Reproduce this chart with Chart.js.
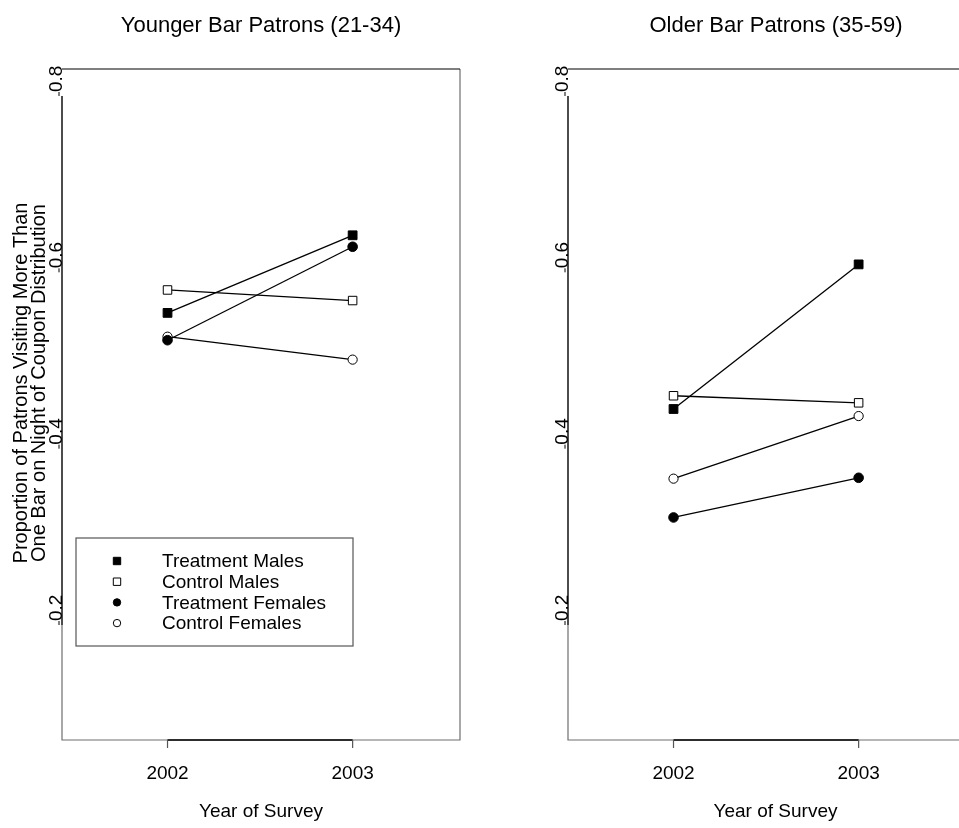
<!DOCTYPE html>
<html><head><meta charset="utf-8">
<script src="https://cdn.jsdelivr.net/npm/chart.js@4.4.1/dist/chart.umd.min.js"></script>
<style>
html,body{margin:0;padding:0;background:#fff;overflow:hidden;width:959px;height:828px;position:relative;}
#wrapL{position:absolute;left:0;top:0;width:480px;height:828px;}
#wrapR{position:absolute;left:480px;top:0;width:520px;height:828px;}
canvas{display:block;}
</style></head><body>
<div id="wrapL"><canvas id="cL" width="480" height="828"></canvas></div>
<div id="wrapR"><canvas id="cR" width="520" height="828"></canvas></div>
<script>
// ---- data ----
const years = [2002, 2003];
const seriesNames = ['Treatment Males', 'Control Males', 'Treatment Females', 'Control Females'];
const youngTreatmentMales   = [0.554, 0.642];
const youngControlMales     = [0.580, 0.568];
const youngTreatmentFemales = [0.523, 0.629];
const youngControlFemales   = [0.527, 0.501];
const oldTreatmentMales     = [0.445, 0.609];
const oldControlMales       = [0.460, 0.452];
const oldTreatmentFemales   = [0.322, 0.367];
const oldControlFemales     = [0.366, 0.437];
const yTickValues = [0.2, 0.4, 0.6, 0.8];
const yTickLabels = ['0.2', '0.4', '0.6', '0.8'];
const xTickLabels = ['2002', '2003'];
const panelTitles = ['Younger Bar Patrons (21-34)', 'Older Bar Patrons (35-59)'];
const xAxisTitle = 'Year of Survey';
const yAxisTitleLines = ['Proportion of Patrons Visiting More Than', 'One Bar on Night of Coupon Distribution'];

// ---- styles ----
const FONT = '"Liberation Sans", Arial, Helvetica, sans-serif';
const markerStyles = [
  {pointStyle: 'rect',   fill: '#000', radius: 6.2},
  {pointStyle: 'rect',   fill: '#fff', radius: 6.0},
  {pointStyle: 'circle', fill: '#000', radius: 4.8},
  {pointStyle: 'circle', fill: '#fff', radius: 4.6}
];

function buildDatasets(arrays) {
  return arrays.map((arr, i) => ({
    label: seriesNames[i],
    data: years.map((yr, j) => ({x: yr, y: arr[j]})),
    borderColor: '#000',
    borderWidth: 1.3,
    backgroundColor: markerStyles[i].fill,
    pointStyle: markerStyles[i].pointStyle,
    pointRadius: markerStyles[i].radius,
    pointBorderWidth: 1,
    pointBorderColor: '#000',
    pointBackgroundColor: markerStyles[i].fill,
    fill: false,
    tension: 0,
    clip: false
  }));
}

function drawLegendMarker(ctx, style, x, y) {
  ctx.save();
  ctx.lineWidth = 1;
  ctx.strokeStyle = '#000';
  ctx.fillStyle = style.fill;
  ctx.beginPath();
  if (style.pointStyle === 'rect') {
    ctx.rect(x - 3.7, y - 3.7, 7.4, 7.4);
  } else {
    ctx.arc(x, y, 3.7, 0, Math.PI * 2);
  }
  ctx.fill();
  ctx.stroke();
  ctx.restore();
}

const panelPlugin = {
  id: 'panel',
  afterDraw(chart, args, o) {
    const {ctx, chartArea: a, scales: {x, y}} = chart;
    ctx.save();
    const yTop = y.getPixelForValue(yTickValues[yTickValues.length - 1]);
    const yBot = y.getPixelForValue(yTickValues[0]);
    // grey frame: left (below last tick), bottom, right
    ctx.strokeStyle = '#6e6e6e';
    ctx.lineWidth = 1.2;
    ctx.beginPath();
    ctx.moveTo(a.left, yBot); ctx.lineTo(a.left, a.bottom); ctx.lineTo(a.right, a.bottom); ctx.lineTo(a.right, a.top);
    ctx.stroke();
    // top line
    ctx.strokeStyle = '#000';
    ctx.lineWidth = 1.2;
    ctx.beginPath(); ctx.moveTo(a.left, a.top); ctx.lineTo(a.right, a.top); ctx.stroke();
    // y axis between first and last tick
    ctx.lineWidth = 1.4;
    ctx.beginPath(); ctx.moveTo(a.left, yTop); ctx.lineTo(a.left, yBot); ctx.stroke();
    // x axis between ticks
    const x0 = x.getPixelForValue(years[0]);
    const x1 = x.getPixelForValue(years[years.length - 1]);
    ctx.beginPath(); ctx.moveTo(x0, a.bottom); ctx.lineTo(x1, a.bottom); ctx.stroke();
    // x ticks & labels
    ctx.fillStyle = '#000';
    ctx.font = '19px ' + FONT;
    ctx.textAlign = 'center';
    ctx.textBaseline = 'middle';
    years.forEach((yr, i) => {
      const px = x.getPixelForValue(yr);
      ctx.lineWidth = 1.2;
      ctx.strokeStyle = '#555';
      ctx.beginPath(); ctx.moveTo(px, a.bottom); ctx.lineTo(px, a.bottom + 8); ctx.stroke();
      ctx.fillText(xTickLabels[i], px, a.bottom + 34);
    });
    // x axis title
    ctx.fillText(xAxisTitle, o.centerX, a.bottom + 72);
    // y ticks & labels (rotated)
    yTickValues.forEach((v, i) => {
      const py = y.getPixelForValue(v);
      ctx.strokeStyle = '#000';
      ctx.lineWidth = 1;
      ctx.beginPath(); ctx.moveTo(a.left - 3, py - 4); ctx.lineTo(a.left - 3, py); ctx.stroke();
      ctx.save();
      ctx.translate(a.left - 5.5, py - 4);
      ctx.rotate(-Math.PI / 2);
      ctx.textAlign = 'left';
      ctx.textBaseline = 'middle';
      ctx.fillText(yTickLabels[i], 0, 0);
      ctx.restore();
    });
    // y axis title
    if (o.showYTitle) {
      ctx.save();
      ctx.font = '20px ' + FONT;
      ctx.translate(0, 383);
      ctx.rotate(-Math.PI / 2);
      ctx.textAlign = 'center';
      ctx.textBaseline = 'middle';
      ctx.fillText(yAxisTitleLines[0], 0, 21);
      ctx.fillText(yAxisTitleLines[1], 0, 39);
      ctx.restore();
    }
    // panel title
    ctx.font = o.titleFont + 'px ' + FONT;
    ctx.textAlign = 'center';
    ctx.textBaseline = 'middle';
    ctx.fillText(o.title, o.titleX, 26);
    // legend
    if (o.showLegend) {
      ctx.strokeStyle = '#555';
      ctx.lineWidth = 1.2;
      ctx.strokeRect(76, 538, 277, 108);
      ctx.font = '19px ' + FONT;
      ctx.textAlign = 'left';
      ctx.textBaseline = 'middle';
      chart.data.datasets.forEach((ds, i) => {
        const ry = 561 + i * 20.7;
        drawLegendMarker(ctx, markerStyles[i], 117, ry);
        ctx.fillStyle = '#000';
        ctx.fillText(ds.label, 162, ry + 1);
      });
    }
    ctx.restore();
  }
};

function makeChart(id, datasets, padRight, pluginOpts) {
  return new Chart(document.getElementById(id), {
    type: 'line',
    data: {datasets},
    options: {
      responsive: false,
      animation: false,
      devicePixelRatio: 1,
      layout: {padding: {left: pluginOpts.padLeft, top: 69, right: padRight, bottom: 88}},
      scales: {
        x: {type: 'linear', min: 2001.43, max: 2003.58, display: false},
        y: {type: 'linear', min: 0.0696, max: 0.8306, display: false}
      },
      plugins: {
        legend: {display: false},
        tooltip: {enabled: false},
        panel: pluginOpts
      }
    },
    plugins: [panelPlugin]
  });
}

makeChart('cL', buildDatasets([youngTreatmentMales, youngControlMales, youngTreatmentFemales, youngControlFemales]), 20,
  {padLeft: 62, title: panelTitles[0], titleFont: 22, titleX: 261, centerX: 261, showYTitle: true, showLegend: true});
makeChart('cR', buildDatasets([oldTreatmentMales, oldControlMales, oldTreatmentFemales, oldControlFemales]), 34,
  {padLeft: 88, title: panelTitles[1], titleFont: 22, titleX: 296, centerX: 295.5, showYTitle: false, showLegend: false});
</script>
</body></html>
